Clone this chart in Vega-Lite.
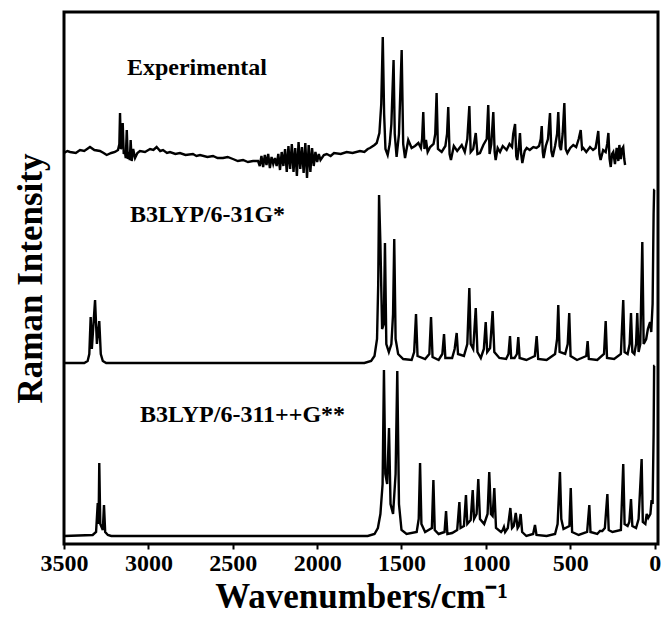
{
  "$schema": "https://vega.github.io/schema/vega-lite/v6.json",
  "width": 594,
  "height": 532,
  "autosize": {"type": "none"},
  "padding": {"left": 64, "top": 12, "right": 6, "bottom": 75},
  "background": "white",
  "config": {
    "view": {"stroke": "black", "strokeWidth": 3},
    "font": "Liberation Serif",
    "axis": {"grid": false}
  },
  "datasets": {
    "spec": [
      {"series":"Experimental","wavenumber":3500,"intensity":391},
      {"series":"Experimental","wavenumber":3480,"intensity":393},
      {"series":"Experimental","wavenumber":3464,"intensity":392},
      {"series":"Experimental","wavenumber":3430,"intensity":391},
      {"series":"Experimental","wavenumber":3405,"intensity":394},
      {"series":"Experimental","wavenumber":3380,"intensity":393},
      {"series":"Experimental","wavenumber":3346,"intensity":397},
      {"series":"Experimental","wavenumber":3320,"intensity":394},
      {"series":"Experimental","wavenumber":3287,"intensity":393},
      {"series":"Experimental","wavenumber":3265,"intensity":391},
      {"series":"Experimental","wavenumber":3247,"intensity":389},
      {"series":"Experimental","wavenumber":3220,"intensity":391},
      {"series":"Experimental","wavenumber":3198,"intensity":392},
      {"series":"Experimental","wavenumber":3180,"intensity":394},
      {"series":"Experimental","wavenumber":3172,"intensity":400},
      {"series":"Experimental","wavenumber":3168,"intensity":431},
      {"series":"Experimental","wavenumber":3163,"intensity":395},
      {"series":"Experimental","wavenumber":3157,"intensity":398},
      {"series":"Experimental","wavenumber":3152,"intensity":421},
      {"series":"Experimental","wavenumber":3146,"intensity":390},
      {"series":"Experimental","wavenumber":3140,"intensity":393},
      {"series":"Experimental","wavenumber":3134,"intensity":386},
      {"series":"Experimental","wavenumber":3128,"intensity":414},
      {"series":"Experimental","wavenumber":3122,"intensity":385},
      {"series":"Experimental","wavenumber":3116,"intensity":392},
      {"series":"Experimental","wavenumber":3110,"intensity":384},
      {"series":"Experimental","wavenumber":3105,"intensity":404},
      {"series":"Experimental","wavenumber":3099,"intensity":383},
      {"series":"Experimental","wavenumber":3090,"intensity":395},
      {"series":"Experimental","wavenumber":3079,"intensity":386},
      {"series":"Experimental","wavenumber":3065,"intensity":391},
      {"series":"Experimental","wavenumber":3050,"intensity":393},
      {"series":"Experimental","wavenumber":3020,"intensity":392},
      {"series":"Experimental","wavenumber":2990,"intensity":395},
      {"series":"Experimental","wavenumber":2970,"intensity":394},
      {"series":"Experimental","wavenumber":2951,"intensity":397},
      {"series":"Experimental","wavenumber":2930,"intensity":393},
      {"series":"Experimental","wavenumber":2913,"intensity":394},
      {"series":"Experimental","wavenumber":2890,"intensity":391},
      {"series":"Experimental","wavenumber":2872,"intensity":392},
      {"series":"Experimental","wavenumber":2840,"intensity":390},
      {"series":"Experimental","wavenumber":2813,"intensity":391},
      {"series":"Experimental","wavenumber":2780,"intensity":389},
      {"series":"Experimental","wavenumber":2736,"intensity":390},
      {"series":"Experimental","wavenumber":2715,"intensity":388},
      {"series":"Experimental","wavenumber":2694,"intensity":389},
      {"series":"Experimental","wavenumber":2650,"intensity":387},
      {"series":"Experimental","wavenumber":2617,"intensity":388},
      {"series":"Experimental","wavenumber":2590,"intensity":386},
      {"series":"Experimental","wavenumber":2558,"intensity":386},
      {"series":"Experimental","wavenumber":2530,"intensity":387},
      {"series":"Experimental","wavenumber":2499,"intensity":385},
      {"series":"Experimental","wavenumber":2470,"intensity":383},
      {"series":"Experimental","wavenumber":2439,"intensity":384},
      {"series":"Experimental","wavenumber":2410,"intensity":382},
      {"series":"Experimental","wavenumber":2380,"intensity":383},
      {"series":"Experimental","wavenumber":2350,"intensity":383},
      {"series":"Experimental","wavenumber":2340,"intensity":378},
      {"series":"Experimental","wavenumber":2330,"intensity":388},
      {"series":"Experimental","wavenumber":2320,"intensity":377},
      {"series":"Experimental","wavenumber":2310,"intensity":389},
      {"series":"Experimental","wavenumber":2300,"intensity":379},
      {"series":"Experimental","wavenumber":2290,"intensity":390},
      {"series":"Experimental","wavenumber":2280,"intensity":376},
      {"series":"Experimental","wavenumber":2270,"intensity":387},
      {"series":"Experimental","wavenumber":2260,"intensity":380},
      {"series":"Experimental","wavenumber":2250,"intensity":386},
      {"series":"Experimental","wavenumber":2240,"intensity":378},
      {"series":"Experimental","wavenumber":2230,"intensity":390},
      {"series":"Experimental","wavenumber":2220,"intensity":374},
      {"series":"Experimental","wavenumber":2210,"intensity":392},
      {"series":"Experimental","wavenumber":2200,"intensity":378},
      {"series":"Experimental","wavenumber":2190,"intensity":395},
      {"series":"Experimental","wavenumber":2180,"intensity":372},
      {"series":"Experimental","wavenumber":2170,"intensity":398},
      {"series":"Experimental","wavenumber":2160,"intensity":375},
      {"series":"Experimental","wavenumber":2150,"intensity":400},
      {"series":"Experimental","wavenumber":2140,"intensity":372},
      {"series":"Experimental","wavenumber":2130,"intensity":396},
      {"series":"Experimental","wavenumber":2120,"intensity":368},
      {"series":"Experimental","wavenumber":2110,"intensity":402},
      {"series":"Experimental","wavenumber":2100,"intensity":375},
      {"series":"Experimental","wavenumber":2090,"intensity":397},
      {"series":"Experimental","wavenumber":2080,"intensity":371},
      {"series":"Experimental","wavenumber":2070,"intensity":401},
      {"series":"Experimental","wavenumber":2060,"intensity":366},
      {"series":"Experimental","wavenumber":2050,"intensity":399},
      {"series":"Experimental","wavenumber":2040,"intensity":372},
      {"series":"Experimental","wavenumber":2030,"intensity":396},
      {"series":"Experimental","wavenumber":2020,"intensity":378},
      {"series":"Experimental","wavenumber":2010,"intensity":392},
      {"series":"Experimental","wavenumber":2000,"intensity":382},
      {"series":"Experimental","wavenumber":1990,"intensity":390},
      {"series":"Experimental","wavenumber":1980,"intensity":384},
      {"series":"Experimental","wavenumber":1960,"intensity":389},
      {"series":"Experimental","wavenumber":1943,"intensity":390},
      {"series":"Experimental","wavenumber":1920,"intensity":388},
      {"series":"Experimental","wavenumber":1900,"intensity":391},
      {"series":"Experimental","wavenumber":1860,"intensity":390},
      {"series":"Experimental","wavenumber":1825,"intensity":392},
      {"series":"Experimental","wavenumber":1790,"intensity":391},
      {"series":"Experimental","wavenumber":1746,"intensity":393},
      {"series":"Experimental","wavenumber":1720,"intensity":392},
      {"series":"Experimental","wavenumber":1700,"intensity":395},
      {"series":"Experimental","wavenumber":1687,"intensity":396},
      {"series":"Experimental","wavenumber":1660,"intensity":399},
      {"series":"Experimental","wavenumber":1647,"intensity":401},
      {"series":"Experimental","wavenumber":1631,"intensity":411},
      {"series":"Experimental","wavenumber":1620,"intensity":440},
      {"series":"Experimental","wavenumber":1611,"intensity":507},
      {"series":"Experimental","wavenumber":1603,"intensity":430},
      {"series":"Experimental","wavenumber":1595,"intensity":395},
      {"series":"Experimental","wavenumber":1582,"intensity":389},
      {"series":"Experimental","wavenumber":1570,"intensity":400},
      {"series":"Experimental","wavenumber":1560,"intensity":420},
      {"series":"Experimental","wavenumber":1547,"intensity":484},
      {"series":"Experimental","wavenumber":1540,"intensity":410},
      {"series":"Experimental","wavenumber":1529,"intensity":387},
      {"series":"Experimental","wavenumber":1515,"intensity":410},
      {"series":"Experimental","wavenumber":1499,"intensity":494},
      {"series":"Experimental","wavenumber":1490,"intensity":400},
      {"series":"Experimental","wavenumber":1479,"intensity":386},
      {"series":"Experimental","wavenumber":1460,"intensity":404},
      {"series":"Experimental","wavenumber":1440,"intensity":396},
      {"series":"Experimental","wavenumber":1420,"intensity":398},
      {"series":"Experimental","wavenumber":1400,"intensity":401},
      {"series":"Experimental","wavenumber":1385,"intensity":396},
      {"series":"Experimental","wavenumber":1378,"intensity":405},
      {"series":"Experimental","wavenumber":1371,"intensity":432},
      {"series":"Experimental","wavenumber":1364,"intensity":395},
      {"series":"Experimental","wavenumber":1355,"intensity":404},
      {"series":"Experimental","wavenumber":1345,"intensity":392},
      {"series":"Experimental","wavenumber":1330,"intensity":397},
      {"series":"Experimental","wavenumber":1310,"intensity":400},
      {"series":"Experimental","wavenumber":1300,"intensity":410},
      {"series":"Experimental","wavenumber":1292,"intensity":451},
      {"series":"Experimental","wavenumber":1284,"intensity":395},
      {"series":"Experimental","wavenumber":1262,"intensity":392},
      {"series":"Experimental","wavenumber":1240,"intensity":398},
      {"series":"Experimental","wavenumber":1230,"intensity":410},
      {"series":"Experimental","wavenumber":1223,"intensity":437},
      {"series":"Experimental","wavenumber":1215,"intensity":390},
      {"series":"Experimental","wavenumber":1207,"intensity":384},
      {"series":"Experimental","wavenumber":1190,"intensity":398},
      {"series":"Experimental","wavenumber":1170,"intensity":393},
      {"series":"Experimental","wavenumber":1143,"intensity":399},
      {"series":"Experimental","wavenumber":1125,"intensity":392},
      {"series":"Experimental","wavenumber":1110,"intensity":405},
      {"series":"Experimental","wavenumber":1098,"intensity":438},
      {"series":"Experimental","wavenumber":1090,"intensity":392},
      {"series":"Experimental","wavenumber":1075,"intensity":395},
      {"series":"Experimental","wavenumber":1060,"intensity":411},
      {"series":"Experimental","wavenumber":1050,"intensity":390},
      {"series":"Experimental","wavenumber":1035,"intensity":391},
      {"series":"Experimental","wavenumber":1015,"intensity":399},
      {"series":"Experimental","wavenumber":995,"intensity":405},
      {"series":"Experimental","wavenumber":986,"intensity":439},
      {"series":"Experimental","wavenumber":978,"intensity":390},
      {"series":"Experimental","wavenumber":968,"intensity":400},
      {"series":"Experimental","wavenumber":956,"intensity":432},
      {"series":"Experimental","wavenumber":948,"intensity":392},
      {"series":"Experimental","wavenumber":942,"intensity":384},
      {"series":"Experimental","wavenumber":930,"intensity":396},
      {"series":"Experimental","wavenumber":916,"intensity":392},
      {"series":"Experimental","wavenumber":900,"intensity":398},
      {"series":"Experimental","wavenumber":877,"intensity":394},
      {"series":"Experimental","wavenumber":860,"intensity":400},
      {"series":"Experimental","wavenumber":845,"intensity":397},
      {"series":"Experimental","wavenumber":838,"intensity":410},
      {"series":"Experimental","wavenumber":827,"intensity":420},
      {"series":"Experimental","wavenumber":820,"intensity":388},
      {"series":"Experimental","wavenumber":814,"intensity":384},
      {"series":"Experimental","wavenumber":806,"intensity":395},
      {"series":"Experimental","wavenumber":798,"intensity":411},
      {"series":"Experimental","wavenumber":791,"intensity":390},
      {"series":"Experimental","wavenumber":784,"intensity":381},
      {"series":"Experimental","wavenumber":770,"intensity":393},
      {"series":"Experimental","wavenumber":758,"intensity":396},
      {"series":"Experimental","wavenumber":740,"intensity":394},
      {"series":"Experimental","wavenumber":719,"intensity":397},
      {"series":"Experimental","wavenumber":700,"intensity":396},
      {"series":"Experimental","wavenumber":685,"intensity":398},
      {"series":"Experimental","wavenumber":675,"intensity":405},
      {"series":"Experimental","wavenumber":669,"intensity":418},
      {"series":"Experimental","wavenumber":663,"intensity":392},
      {"series":"Experimental","wavenumber":658,"intensity":386},
      {"series":"Experimental","wavenumber":645,"intensity":398},
      {"series":"Experimental","wavenumber":632,"intensity":405},
      {"series":"Experimental","wavenumber":620,"intensity":431},
      {"series":"Experimental","wavenumber":612,"intensity":393},
      {"series":"Experimental","wavenumber":604,"intensity":387},
      {"series":"Experimental","wavenumber":590,"intensity":398},
      {"series":"Experimental","wavenumber":578,"intensity":410},
      {"series":"Experimental","wavenumber":571,"intensity":432},
      {"series":"Experimental","wavenumber":563,"intensity":398},
      {"series":"Experimental","wavenumber":555,"intensity":394},
      {"series":"Experimental","wavenumber":545,"intensity":410},
      {"series":"Experimental","wavenumber":535,"intensity":441},
      {"series":"Experimental","wavenumber":527,"intensity":395},
      {"series":"Experimental","wavenumber":517,"intensity":391},
      {"series":"Experimental","wavenumber":500,"intensity":396},
      {"series":"Experimental","wavenumber":482,"intensity":399},
      {"series":"Experimental","wavenumber":465,"intensity":397},
      {"series":"Experimental","wavenumber":450,"intensity":405},
      {"series":"Experimental","wavenumber":438,"intensity":414},
      {"series":"Experimental","wavenumber":430,"intensity":395},
      {"series":"Experimental","wavenumber":423,"intensity":396},
      {"series":"Experimental","wavenumber":405,"intensity":392},
      {"series":"Experimental","wavenumber":383,"intensity":397},
      {"series":"Experimental","wavenumber":365,"intensity":394},
      {"series":"Experimental","wavenumber":350,"intensity":396},
      {"series":"Experimental","wavenumber":341,"intensity":405},
      {"series":"Experimental","wavenumber":334,"intensity":413},
      {"series":"Experimental","wavenumber":327,"intensity":390},
      {"series":"Experimental","wavenumber":320,"intensity":384},
      {"series":"Experimental","wavenumber":305,"intensity":394},
      {"series":"Experimental","wavenumber":290,"intensity":392},
      {"series":"Experimental","wavenumber":281,"intensity":400},
      {"series":"Experimental","wavenumber":274,"intensity":411},
      {"series":"Experimental","wavenumber":267,"intensity":385},
      {"series":"Experimental","wavenumber":260,"intensity":377},
      {"series":"Experimental","wavenumber":252,"intensity":390},
      {"series":"Experimental","wavenumber":245,"intensity":392},
      {"series":"Experimental","wavenumber":235,"intensity":380},
      {"series":"Experimental","wavenumber":225,"intensity":396},
      {"series":"Experimental","wavenumber":215,"intensity":383},
      {"series":"Experimental","wavenumber":209,"intensity":399},
      {"series":"Experimental","wavenumber":200,"intensity":385},
      {"series":"Experimental","wavenumber":193,"intensity":395},
      {"series":"Experimental","wavenumber":186,"intensity":397},
      {"series":"Experimental","wavenumber":180,"intensity":385},
      {"series":"Experimental","wavenumber":175,"intensity":379},

      {"series":"B3LYP/6-31G*","wavenumber":3500,"intensity":181},
      {"series":"B3LYP/6-31G*","wavenumber":3380,"intensity":181},
      {"series":"B3LYP/6-31G*","wavenumber":3360,"intensity":183},
      {"series":"B3LYP/6-31G*","wavenumber":3350,"intensity":190},
      {"series":"B3LYP/6-31G*","wavenumber":3342,"intensity":227},
      {"series":"B3LYP/6-31G*","wavenumber":3335,"intensity":195},
      {"series":"B3LYP/6-31G*","wavenumber":3316,"intensity":244},
      {"series":"B3LYP/6-31G*","wavenumber":3305,"intensity":200},
      {"series":"B3LYP/6-31G*","wavenumber":3291,"intensity":223},
      {"series":"B3LYP/6-31G*","wavenumber":3282,"intensity":190},
      {"series":"B3LYP/6-31G*","wavenumber":3270,"intensity":183},
      {"series":"B3LYP/6-31G*","wavenumber":3250,"intensity":181},
      {"series":"B3LYP/6-31G*","wavenumber":1720,"intensity":181},
      {"series":"B3LYP/6-31G*","wavenumber":1680,"intensity":183},
      {"series":"B3LYP/6-31G*","wavenumber":1660,"intensity":188},
      {"series":"B3LYP/6-31G*","wavenumber":1645,"intensity":205},
      {"series":"B3LYP/6-31G*","wavenumber":1638,"intensity":260},
      {"series":"B3LYP/6-31G*","wavenumber":1633,"intensity":349},
      {"series":"B3LYP/6-31G*","wavenumber":1625,"intensity":300},
      {"series":"B3LYP/6-31G*","wavenumber":1615,"intensity":215},
      {"series":"B3LYP/6-31G*","wavenumber":1605,"intensity":220},
      {"series":"B3LYP/6-31G*","wavenumber":1598,"intensity":301},
      {"series":"B3LYP/6-31G*","wavenumber":1590,"intensity":200},
      {"series":"B3LYP/6-31G*","wavenumber":1575,"intensity":192},
      {"series":"B3LYP/6-31G*","wavenumber":1560,"intensity":200},
      {"series":"B3LYP/6-31G*","wavenumber":1550,"intensity":230},
      {"series":"B3LYP/6-31G*","wavenumber":1543,"intensity":305},
      {"series":"B3LYP/6-31G*","wavenumber":1535,"intensity":205},
      {"series":"B3LYP/6-31G*","wavenumber":1520,"intensity":190},
      {"series":"B3LYP/6-31G*","wavenumber":1490,"intensity":185},
      {"series":"B3LYP/6-31G*","wavenumber":1440,"intensity":184},
      {"series":"B3LYP/6-31G*","wavenumber":1425,"intensity":192},
      {"series":"B3LYP/6-31G*","wavenumber":1414,"intensity":230},
      {"series":"B3LYP/6-31G*","wavenumber":1405,"intensity":188},
      {"series":"B3LYP/6-31G*","wavenumber":1360,"intensity":185},
      {"series":"B3LYP/6-31G*","wavenumber":1335,"intensity":190},
      {"series":"B3LYP/6-31G*","wavenumber":1325,"intensity":227},
      {"series":"B3LYP/6-31G*","wavenumber":1316,"intensity":187},
      {"series":"B3LYP/6-31G*","wavenumber":1280,"intensity":184},
      {"series":"B3LYP/6-31G*","wavenumber":1258,"intensity":190},
      {"series":"B3LYP/6-31G*","wavenumber":1248,"intensity":210},
      {"series":"B3LYP/6-31G*","wavenumber":1240,"intensity":186},
      {"series":"B3LYP/6-31G*","wavenumber":1200,"intensity":186},
      {"series":"B3LYP/6-31G*","wavenumber":1185,"intensity":195},
      {"series":"B3LYP/6-31G*","wavenumber":1173,"intensity":211},
      {"series":"B3LYP/6-31G*","wavenumber":1165,"intensity":190},
      {"series":"B3LYP/6-31G*","wavenumber":1130,"intensity":188},
      {"series":"B3LYP/6-31G*","wavenumber":1110,"intensity":200},
      {"series":"B3LYP/6-31G*","wavenumber":1098,"intensity":256},
      {"series":"B3LYP/6-31G*","wavenumber":1090,"intensity":200},
      {"series":"B3LYP/6-31G*","wavenumber":1075,"intensity":195},
      {"series":"B3LYP/6-31G*","wavenumber":1060,"intensity":236},
      {"series":"B3LYP/6-31G*","wavenumber":1050,"intensity":192},
      {"series":"B3LYP/6-31G*","wavenumber":1030,"intensity":186},
      {"series":"B3LYP/6-31G*","wavenumber":1012,"intensity":195},
      {"series":"B3LYP/6-31G*","wavenumber":1001,"intensity":222},
      {"series":"B3LYP/6-31G*","wavenumber":992,"intensity":192},
      {"series":"B3LYP/6-31G*","wavenumber":975,"intensity":196},
      {"series":"B3LYP/6-31G*","wavenumber":960,"intensity":233},
      {"series":"B3LYP/6-31G*","wavenumber":950,"intensity":192},
      {"series":"B3LYP/6-31G*","wavenumber":920,"intensity":186},
      {"series":"B3LYP/6-31G*","wavenumber":880,"intensity":185},
      {"series":"B3LYP/6-31G*","wavenumber":866,"intensity":190},
      {"series":"B3LYP/6-31G*","wavenumber":857,"intensity":208},
      {"series":"B3LYP/6-31G*","wavenumber":850,"intensity":186},
      {"series":"B3LYP/6-31G*","wavenumber":830,"intensity":186},
      {"series":"B3LYP/6-31G*","wavenumber":816,"intensity":190},
      {"series":"B3LYP/6-31G*","wavenumber":808,"intensity":207},
      {"series":"B3LYP/6-31G*","wavenumber":800,"intensity":186},
      {"series":"B3LYP/6-31G*","wavenumber":760,"intensity":184},
      {"series":"B3LYP/6-31G*","wavenumber":710,"intensity":188},
      {"series":"B3LYP/6-31G*","wavenumber":699,"intensity":208},
      {"series":"B3LYP/6-31G*","wavenumber":690,"intensity":185},
      {"series":"B3LYP/6-31G*","wavenumber":640,"intensity":184},
      {"series":"B3LYP/6-31G*","wavenumber":590,"intensity":190},
      {"series":"B3LYP/6-31G*","wavenumber":578,"intensity":205},
      {"series":"B3LYP/6-31G*","wavenumber":571,"intensity":239},
      {"series":"B3LYP/6-31G*","wavenumber":563,"intensity":192},
      {"series":"B3LYP/6-31G*","wavenumber":530,"intensity":190},
      {"series":"B3LYP/6-31G*","wavenumber":515,"intensity":200},
      {"series":"B3LYP/6-31G*","wavenumber":506,"intensity":231},
      {"series":"B3LYP/6-31G*","wavenumber":498,"intensity":188},
      {"series":"B3LYP/6-31G*","wavenumber":460,"intensity":184},
      {"series":"B3LYP/6-31G*","wavenumber":405,"intensity":188},
      {"series":"B3LYP/6-31G*","wavenumber":397,"intensity":203},
      {"series":"B3LYP/6-31G*","wavenumber":390,"intensity":185},
      {"series":"B3LYP/6-31G*","wavenumber":340,"intensity":184},
      {"series":"B3LYP/6-31G*","wavenumber":300,"intensity":190},
      {"series":"B3LYP/6-31G*","wavenumber":290,"intensity":223},
      {"series":"B3LYP/6-31G*","wavenumber":282,"intensity":186},
      {"series":"B3LYP/6-31G*","wavenumber":240,"intensity":185},
      {"series":"B3LYP/6-31G*","wavenumber":200,"intensity":190},
      {"series":"B3LYP/6-31G*","wavenumber":186,"intensity":244},
      {"series":"B3LYP/6-31G*","wavenumber":178,"intensity":192},
      {"series":"B3LYP/6-31G*","wavenumber":160,"intensity":190},
      {"series":"B3LYP/6-31G*","wavenumber":148,"intensity":200},
      {"series":"B3LYP/6-31G*","wavenumber":140,"intensity":231},
      {"series":"B3LYP/6-31G*","wavenumber":132,"intensity":192},
      {"series":"B3LYP/6-31G*","wavenumber":120,"intensity":190},
      {"series":"B3LYP/6-31G*","wavenumber":110,"intensity":200},
      {"series":"B3LYP/6-31G*","wavenumber":103,"intensity":231},
      {"series":"B3LYP/6-31G*","wavenumber":95,"intensity":192},
      {"series":"B3LYP/6-31G*","wavenumber":85,"intensity":200},
      {"series":"B3LYP/6-31G*","wavenumber":73,"intensity":302},
      {"series":"B3LYP/6-31G*","wavenumber":65,"intensity":200},
      {"series":"B3LYP/6-31G*","wavenumber":50,"intensity":205},
      {"series":"B3LYP/6-31G*","wavenumber":40,"intensity":215},
      {"series":"B3LYP/6-31G*","wavenumber":27,"intensity":222},
      {"series":"B3LYP/6-31G*","wavenumber":20,"intensity":212},
      {"series":"B3LYP/6-31G*","wavenumber":12,"intensity":240},
      {"series":"B3LYP/6-31G*","wavenumber":6,"intensity":330},
      {"series":"B3LYP/6-31G*","wavenumber":3,"intensity":354},
      {"series":"B3LYP/6-31G*","wavenumber":0,"intensity":354},

      {"series":"B3LYP/6-311++G**","wavenumber":3500,"intensity":8},
      {"series":"B3LYP/6-311++G**","wavenumber":3330,"intensity":9},
      {"series":"B3LYP/6-311++G**","wavenumber":3310,"intensity":12},
      {"series":"B3LYP/6-311++G**","wavenumber":3300,"intensity":41},
      {"series":"B3LYP/6-311++G**","wavenumber":3295,"intensity":20},
      {"series":"B3LYP/6-311++G**","wavenumber":3291,"intensity":81},
      {"series":"B3LYP/6-311++G**","wavenumber":3285,"intensity":20},
      {"series":"B3LYP/6-311++G**","wavenumber":3270,"intensity":14},
      {"series":"B3LYP/6-311++G**","wavenumber":3263,"intensity":39},
      {"series":"B3LYP/6-311++G**","wavenumber":3256,"intensity":12},
      {"series":"B3LYP/6-311++G**","wavenumber":3240,"intensity":9},
      {"series":"B3LYP/6-311++G**","wavenumber":3220,"intensity":8},
      {"series":"B3LYP/6-311++G**","wavenumber":1700,"intensity":8},
      {"series":"B3LYP/6-311++G**","wavenumber":1660,"intensity":10},
      {"series":"B3LYP/6-311++G**","wavenumber":1640,"intensity":16},
      {"series":"B3LYP/6-311++G**","wavenumber":1625,"intensity":30},
      {"series":"B3LYP/6-311++G**","wavenumber":1612,"intensity":60},
      {"series":"B3LYP/6-311++G**","wavenumber":1604,"intensity":174},
      {"series":"B3LYP/6-311++G**","wavenumber":1596,"intensity":70},
      {"series":"B3LYP/6-311++G**","wavenumber":1585,"intensity":60},
      {"series":"B3LYP/6-311++G**","wavenumber":1574,"intensity":116},
      {"series":"B3LYP/6-311++G**","wavenumber":1565,"intensity":40},
      {"series":"B3LYP/6-311++G**","wavenumber":1550,"intensity":30},
      {"series":"B3LYP/6-311++G**","wavenumber":1535,"intensity":70},
      {"series":"B3LYP/6-311++G**","wavenumber":1525,"intensity":173},
      {"series":"B3LYP/6-311++G**","wavenumber":1515,"intensity":40},
      {"series":"B3LYP/6-311++G**","wavenumber":1500,"intensity":14},
      {"series":"B3LYP/6-311++G**","wavenumber":1470,"intensity":10},
      {"series":"B3LYP/6-311++G**","wavenumber":1410,"intensity":12},
      {"series":"B3LYP/6-311++G**","wavenumber":1398,"intensity":25},
      {"series":"B3LYP/6-311++G**","wavenumber":1390,"intensity":81},
      {"series":"B3LYP/6-311++G**","wavenumber":1382,"intensity":20},
      {"series":"B3LYP/6-311++G**","wavenumber":1360,"intensity":12},
      {"series":"B3LYP/6-311++G**","wavenumber":1320,"intensity":16},
      {"series":"B3LYP/6-311++G**","wavenumber":1311,"intensity":64},
      {"series":"B3LYP/6-311++G**","wavenumber":1303,"intensity":14},
      {"series":"B3LYP/6-311++G**","wavenumber":1280,"intensity":10},
      {"series":"B3LYP/6-311++G**","wavenumber":1245,"intensity":12},
      {"series":"B3LYP/6-311++G**","wavenumber":1236,"intensity":33},
      {"series":"B3LYP/6-311++G**","wavenumber":1228,"intensity":10},
      {"series":"B3LYP/6-311++G**","wavenumber":1200,"intensity":11},
      {"series":"B3LYP/6-311++G**","wavenumber":1170,"intensity":14},
      {"series":"B3LYP/6-311++G**","wavenumber":1157,"intensity":42},
      {"series":"B3LYP/6-311++G**","wavenumber":1150,"intensity":16},
      {"series":"B3LYP/6-311++G**","wavenumber":1130,"intensity":18},
      {"series":"B3LYP/6-311++G**","wavenumber":1118,"intensity":49},
      {"series":"B3LYP/6-311++G**","wavenumber":1110,"intensity":20},
      {"series":"B3LYP/6-311++G**","wavenumber":1090,"intensity":24},
      {"series":"B3LYP/6-311++G**","wavenumber":1078,"intensity":54},
      {"series":"B3LYP/6-311++G**","wavenumber":1070,"intensity":25},
      {"series":"B3LYP/6-311++G**","wavenumber":1055,"intensity":30},
      {"series":"B3LYP/6-311++G**","wavenumber":1045,"intensity":65},
      {"series":"B3LYP/6-311++G**","wavenumber":1035,"intensity":25},
      {"series":"B3LYP/6-311++G**","wavenumber":1010,"intensity":20},
      {"series":"B3LYP/6-311++G**","wavenumber":990,"intensity":30},
      {"series":"B3LYP/6-311++G**","wavenumber":980,"intensity":72},
      {"series":"B3LYP/6-311++G**","wavenumber":970,"intensity":30},
      {"series":"B3LYP/6-311++G**","wavenumber":960,"intensity":28},
      {"series":"B3LYP/6-311++G**","wavenumber":950,"intensity":56},
      {"series":"B3LYP/6-311++G**","wavenumber":940,"intensity":16},
      {"series":"B3LYP/6-311++G**","wavenumber":910,"intensity":12},
      {"series":"B3LYP/6-311++G**","wavenumber":900,"intensity":14},
      {"series":"B3LYP/6-311++G**","wavenumber":893,"intensity":17},
      {"series":"B3LYP/6-311++G**","wavenumber":886,"intensity":12},
      {"series":"B3LYP/6-311++G**","wavenumber":870,"intensity":16},
      {"series":"B3LYP/6-311++G**","wavenumber":855,"intensity":36},
      {"series":"B3LYP/6-311++G**","wavenumber":845,"intensity":16},
      {"series":"B3LYP/6-311++G**","wavenumber":835,"intensity":18},
      {"series":"B3LYP/6-311++G**","wavenumber":823,"intensity":31},
      {"series":"B3LYP/6-311++G**","wavenumber":812,"intensity":16},
      {"series":"B3LYP/6-311++G**","wavenumber":805,"intensity":18},
      {"series":"B3LYP/6-311++G**","wavenumber":794,"intensity":30},
      {"series":"B3LYP/6-311++G**","wavenumber":785,"intensity":12},
      {"series":"B3LYP/6-311++G**","wavenumber":760,"intensity":8},
      {"series":"B3LYP/6-311++G**","wavenumber":720,"intensity":10},
      {"series":"B3LYP/6-311++G**","wavenumber":709,"intensity":19},
      {"series":"B3LYP/6-311++G**","wavenumber":700,"intensity":9},
      {"series":"B3LYP/6-311++G**","wavenumber":640,"intensity":8},
      {"series":"B3LYP/6-311++G**","wavenumber":590,"intensity":10},
      {"series":"B3LYP/6-311++G**","wavenumber":575,"intensity":20},
      {"series":"B3LYP/6-311++G**","wavenumber":561,"intensity":72},
      {"series":"B3LYP/6-311++G**","wavenumber":553,"intensity":25},
      {"series":"B3LYP/6-311++G**","wavenumber":540,"intensity":15},
      {"series":"B3LYP/6-311++G**","wavenumber":505,"intensity":18},
      {"series":"B3LYP/6-311++G**","wavenumber":497,"intensity":56},
      {"series":"B3LYP/6-311++G**","wavenumber":489,"intensity":12},
      {"series":"B3LYP/6-311++G**","wavenumber":450,"intensity":9},
      {"series":"B3LYP/6-311++G**","wavenumber":400,"intensity":12},
      {"series":"B3LYP/6-311++G**","wavenumber":387,"intensity":39},
      {"series":"B3LYP/6-311++G**","wavenumber":380,"intensity":12},
      {"series":"B3LYP/6-311++G**","wavenumber":340,"intensity":10},
      {"series":"B3LYP/6-311++G**","wavenumber":324,"intensity":13},
      {"series":"B3LYP/6-311++G**","wavenumber":310,"intensity":13},
      {"series":"B3LYP/6-311++G**","wavenumber":295,"intensity":16},
      {"series":"B3LYP/6-311++G**","wavenumber":280,"intensity":50},
      {"series":"B3LYP/6-311++G**","wavenumber":272,"intensity":14},
      {"series":"B3LYP/6-311++G**","wavenumber":250,"intensity":12},
      {"series":"B3LYP/6-311++G**","wavenumber":200,"intensity":14},
      {"series":"B3LYP/6-311++G**","wavenumber":186,"intensity":80},
      {"series":"B3LYP/6-311++G**","wavenumber":178,"intensity":20},
      {"series":"B3LYP/6-311++G**","wavenumber":160,"intensity":18},
      {"series":"B3LYP/6-311++G**","wavenumber":150,"intensity":22},
      {"series":"B3LYP/6-311++G**","wavenumber":140,"intensity":45},
      {"series":"B3LYP/6-311++G**","wavenumber":132,"intensity":18},
      {"series":"B3LYP/6-311++G**","wavenumber":110,"intensity":16},
      {"series":"B3LYP/6-311++G**","wavenumber":95,"intensity":25},
      {"series":"B3LYP/6-311++G**","wavenumber":77,"intensity":85},
      {"series":"B3LYP/6-311++G**","wavenumber":70,"intensity":22},
      {"series":"B3LYP/6-311++G**","wavenumber":55,"intensity":20},
      {"series":"B3LYP/6-311++G**","wavenumber":47,"intensity":30},
      {"series":"B3LYP/6-311++G**","wavenumber":38,"intensity":26},
      {"series":"B3LYP/6-311++G**","wavenumber":25,"intensity":30},
      {"series":"B3LYP/6-311++G**","wavenumber":18,"intensity":44},
      {"series":"B3LYP/6-311++G**","wavenumber":12,"intensity":40},
      {"series":"B3LYP/6-311++G**","wavenumber":6,"intensity":110},
      {"series":"B3LYP/6-311++G**","wavenumber":3,"intensity":178},
      {"series":"B3LYP/6-311++G**","wavenumber":0,"intensity":178}
    ],
    "labels": [
      {"label":"Experimental","wavenumber":3127,"intensity":469},
      {"label":"B3LYP/6-31G*","wavenumber":3109,"intensity":322},
      {"label":"B3LYP/6-311++G**","wavenumber":3050,"intensity":122}
    ]
  },
  "layer": [
    {
      "data": {"name": "spec"},
      "mark": {"type": "line", "color": "black", "strokeWidth": 2.4, "strokeJoin": "miter", "clip": true},
      "encoding": {
        "x": {
          "field": "wavenumber", "type": "quantitative",
          "scale": {"domain": [-20, 3500], "reverse": true, "nice": false, "zero": false},
          "axis": {
            "values": [3500, 3000, 2500, 2000, 1500, 1000, 500, 0],
            "format": "d",
            "title": "Wavenumbers/cm⁻¹",
            "titleFont": "Liberation Serif", "titleFontSize": 35, "titleFontWeight": "bold", "titleColor": "black",
            "titlePadding": 4,
            "labelFont": "Liberation Serif", "labelFontSize": 24, "labelFontWeight": "bold", "labelColor": "black",
            "labelPadding": 2, "labelFlush": false, "labelOverlap": false,
            "tickSize": 5, "tickWidth": 2, "tickColor": "black",
            "domain": false
          }
        },
        "y": {
          "field": "intensity", "type": "quantitative",
          "scale": {"domain": [0, 532], "nice": false, "zero": false},
          "axis": {
            "title": "Raman Intensity",
            "titleFont": "Liberation Serif", "titleFontSize": 35, "titleFontWeight": "bold", "titleColor": "black",
            "titlePadding": 16,
            "labels": false, "ticks": false, "domain": false
          }
        },
        "detail": {"field": "series", "type": "nominal"}
      }
    },
    {
      "data": {"name": "labels"},
      "mark": {"type": "text", "align": "left", "baseline": "alphabetic", "font": "Liberation Serif", "fontSize": 24, "fontWeight": "bold", "color": "black"},
      "encoding": {
        "x": {"field": "wavenumber", "type": "quantitative"},
        "y": {"field": "intensity", "type": "quantitative"},
        "text": {"field": "label", "type": "nominal"}
      }
    }
  ]
}
